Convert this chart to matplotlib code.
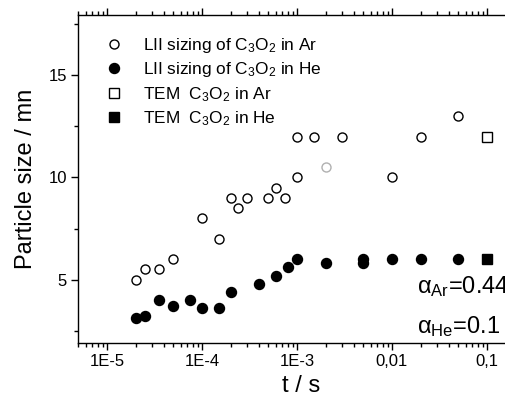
import numpy as np
import matplotlib
matplotlib.use("Agg")
from matplotlib import pyplot as plt
from matplotlib.ticker import LogLocator, MultipleLocator, FixedLocator, FixedFormatter, NullFormatter

plt.rcParams["font.family"] = ["Liberation Sans", "DejaVu Sans"]
plt.rcParams["mathtext.fontset"] = "custom"
plt.rcParams["mathtext.rm"] = "Liberation Sans"
plt.rcParams["mathtext.it"] = "Liberation Sans:italic"
plt.rcParams["mathtext.default"] = "regular"

# LII sizing of C3O2 in Ar (open circles)
t_ar = [2e-5, 2.5e-5, 3.5e-5, 5e-5, 1e-4, 1.5e-4, 2e-4, 2.4e-4, 3e-4, 5e-4,
        6e-4, 7.5e-4, 1e-3, 1e-3, 1.5e-3, 3e-3, 0.01, 0.02, 0.05]
size_ar = [5.0, 5.5, 5.5, 6.0, 8.0, 7.0, 9.0, 8.5, 9.0, 9.0,
           9.5, 9.0, 10.0, 12.0, 12.0, 12.0, 10.0, 12.0, 13.0]

# one faint (grey) Ar point
t_ar_grey = [2e-3]
size_ar_grey = [10.5]

# LII sizing of C3O2 in He (filled circles)
t_he = [2e-5, 2.5e-5, 3.5e-5, 5e-5, 7.5e-5, 1e-4, 1.5e-4, 2e-4, 4e-4, 6e-4,
        8e-4, 1e-3, 2e-3, 5e-3, 5e-3, 0.01, 0.02, 0.05]
size_he = [3.1, 3.2, 4.0, 3.7, 4.0, 3.6, 3.6, 4.4, 4.8, 5.2,
           5.6, 6.0, 5.8, 6.0, 5.8, 6.0, 6.0, 6.0]

# TEM results
t_tem_ar = [0.1]
size_tem_ar = [12.0]
t_tem_he = [0.1]
size_tem_he = [6.0]

xtick_vals = [1e-5, 1e-4, 1e-3, 1e-2, 1e-1]
xtick_labels = ["1E-5", "1E-4", "1E-3", "0,01", "0,1"]
ytick_vals = [5, 10, 15]

W, H = 505, 401
fig = plt.figure(figsize=(W / 100, H / 100), dpi=100)
# axes run past the right edge of the picture (cropped original)
ax = fig.add_axes([78 / W, 58 / H, (525 - 78) / W, 328 / H])

ax.plot(t_ar, size_ar, linestyle="none", marker="o", markersize=6.5,
        markerfacecolor="white", markeredgecolor="black", markeredgewidth=1.0,
        label="LII sizing of C$_3$O$_2$ in Ar")
ax.plot(t_ar_grey, size_ar_grey, linestyle="none", marker="o", markersize=6.5,
        markerfacecolor="white", markeredgecolor="#b0b0b0", markeredgewidth=1.0)
ax.plot(t_he, size_he, linestyle="none", marker="o", markersize=7.2,
        markerfacecolor="black", markeredgecolor="black",
        label="LII sizing of C$_3$O$_2$ in He")
ax.plot(t_tem_ar, size_tem_ar, linestyle="none", marker="s", markersize=6.8,
        markerfacecolor="white", markeredgecolor="black", markeredgewidth=1.0,
        label="TEM  C$_3$O$_2$ in Ar")
ax.plot(t_tem_he, size_tem_he, linestyle="none", marker="s", markersize=6.8,
        markerfacecolor="black", markeredgecolor="black",
        label="TEM  C$_3$O$_2$ in He")

ax.set_xscale("log")
ax.set_xlim(10 ** -5.305, 10 ** -0.6)
ax.set_ylim(1.9, 17.95)

ax.xaxis.set_major_locator(FixedLocator(xtick_vals))
ax.xaxis.set_major_formatter(FixedFormatter(xtick_labels))
ax.xaxis.set_minor_locator(LogLocator(base=10, subs=np.arange(2, 10), numticks=20))
ax.xaxis.set_minor_formatter(NullFormatter())
ax.set_yticks(ytick_vals)
ax.yaxis.set_minor_locator(MultipleLocator(2.5))

ax.tick_params(which="major", direction="out", length=5, width=1,
               labelsize=12, top=True, pad=3)
ax.tick_params(which="minor", direction="out", length=3, width=1, top=True)
for s in ax.spines.values():
    s.set_linewidth(1)

ax.set_xlabel("t / s", fontsize=17, labelpad=4)
ax.set_ylabel("Particle size / mn", fontsize=17, labelpad=8)

ax.legend(loc="upper left", bbox_to_anchor=(0.062, 0.937), frameon=False,
          fontsize=12.4, handlelength=1.0, handletextpad=1.15,
          labelspacing=0.33, borderaxespad=0, borderpad=0)

fig.text(417 / W, 1 - 293 / H, r"$\alpha_{Ar}$=0.44", fontsize=17, va="baseline")
fig.text(417 / W, 1 - 333 / H, r"$\alpha_{He}$=0.1", fontsize=17, va="baseline")

fig.savefig("out.png", dpi=100)
